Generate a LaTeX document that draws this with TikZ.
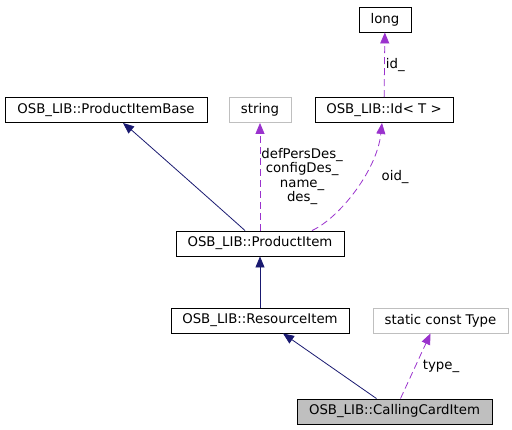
\documentclass[tikz,border=0pt]{standalone}
\usepackage{fontspec}
\setmainfont{DejaVu Sans}
\usetikzlibrary{arrows.meta, positioning}
\definecolor{edgeblue}{HTML}{191970}
\definecolor{edgepurple}{HTML}{9A32CD}
\definecolor{boxgrey}{HTML}{BFBFBF}

\begin{document}
\begin{tikzpicture}[x=1pt, y=-1pt, font=\fontsize{13.3}{14.5}\selectfont,
    cls/.style={draw=black, line width=0.9pt, minimum height=25pt, inner sep=0pt},
    ext/.style={draw=boxgrey, line width=0.9pt, minimum height=25pt, inner sep=0pt},
    inherit/.style={edgeblue, line width=0.8pt, -{Triangle[length=11pt, width=9pt]}},
    member/.style={edgepurple, line width=0.8pt, dash pattern=on 7pt off 4pt, -{Triangle[length=11pt, width=9pt]}},
    lbl/.style={text=black, inner sep=1pt, align=center}]
    \useasboundingbox (0,0) rectangle (512,429);

    % Classes
    \node[cls, minimum width=52pt] (long) at (385,19.5) {long};
    \node[cls, minimum width=202pt] (pib) at (106,110) {OSB\_LIB::ProductItemBase};
    \node[ext, minimum width=62pt] (str) at (260,110) {string};
    \node[cls, minimum width=138pt] (id) at (384,110) {OSB\_LIB::Id< T >};
    \node[cls, minimum width=168pt] (pitem) at (260,243.5) {OSB\_LIB::ProductItem};
    \node[cls, minimum width=178pt] (ritem) at (260,320.5) {OSB\_LIB::ResourceItem};
    \node[ext, minimum width=135pt] (sct) at (440.5,320.5) {static const Type};
    \node[cls, fill=boxgrey, minimum width=195pt] (cci) at (394.5,411.5) {OSB\_LIB::CallingCardItem};

    % Inheritance
    \draw[inherit] ([xshift=-15pt]pitem.north) .. controls +(-20,-18) and +(12,10) .. ([xshift=17pt]pib.south);
    \draw[inherit] (ritem) -- (pitem);
    \draw[inherit] ([xshift=-18pt]cci.north) -- ([xshift=23pt]ritem.south);

    % Members
    \draw[member] (pitem) -- (str) node[midway, right, lbl] {defPersDes\_\\configDes\_\\name\_\\des\_};
    \draw[member] (id) -- (long) node[midway, right, lbl] {id\_};
    \draw[member] ([xshift=52pt]pitem.north) .. controls +(28,-13) and +(-5,47) .. ([xshift=-2pt]id.south)
        node[pos=0.6, right=17pt, lbl] {oid\_};
    \draw[member] ([xshift=6pt]cci.north) -- ([xshift=-10pt]sct.south) node[midway, right=6pt, lbl] {type\_};
\end{tikzpicture}
\end{document}
